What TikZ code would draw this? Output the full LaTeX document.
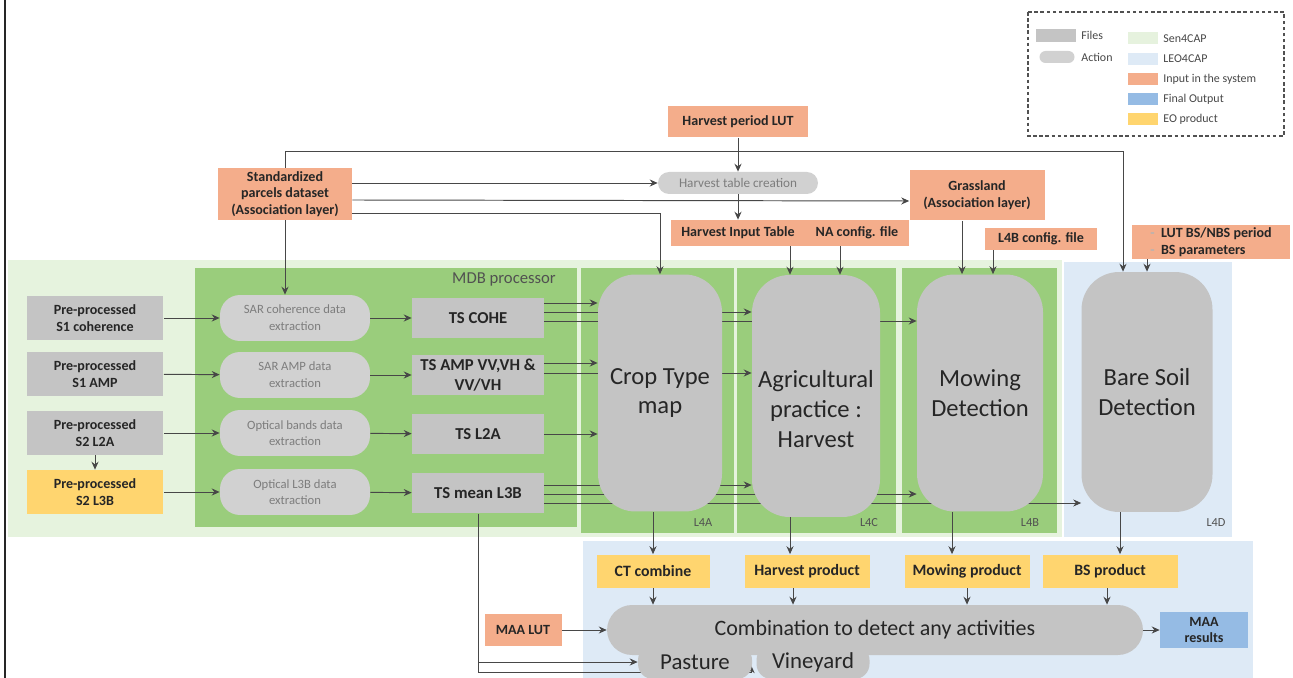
\documentclass[tikz,border=0pt]{standalone}
\usepackage{fontspec}
\setmainfont{Carlito}
\usetikzlibrary{positioning,backgrounds,arrows.meta}
\definecolor{ink}     {HTML}{262626}
\definecolor{filegray}{HTML}{C4C4C4}
\definecolor{actgray} {HTML}{D1D1D1}
\definecolor{inorange}{HTML}{F4AD8B}
\definecolor{eoyellow}{HTML}{FFD56F}
\definecolor{outblue} {HTML}{95BBE4}
\definecolor{mdbgreen}{HTML}{9ACD7C}
\definecolor{leofill} {HTML}{DEEAF6}
\colorlet{senfill}{mdbgreen!25}
\newcommand{\fsz}[2]{\fontsize{#1}{#2}\selectfont}
\tikzset{
  >=Stealth,
  % --- nodes
  filebox/.style = {fill=filegray, text=ink, align=center, inner sep=1pt,
                    font=\fsz{8}{9.5}\bfseries},
  inp/.style     = {filebox, fill=inorange},
  eo/.style      = {filebox, fill=eoyellow, font=\fsz{9}{10.5}\bfseries},
  fin/.style     = {filebox, fill=outblue},
  tsbox/.style   = {filebox, font=\fsz{9.5}{11}\bfseries, minimum width=2.64cm,
                    minimum height=0.82cm},
  act/.style     = {fill=actgray, text=ink!60, align=center, inner sep=1pt,
                    rounded corners=0.4cm, font=\fsz{7.2}{9.5}},
  big/.style     = {fill=filegray, text=ink, align=center, inner sep=1pt,
                    rounded corners=0.75cm, font=\fsz{14}{17}},
  lbl/.style     = {font=\fsz{7}{8}, text=ink!80},
  leg/.style     = {font=\fsz{6.8}{7.5}, text=ink!85, anchor=west, inner sep=0pt},
  % --- edges
  e/.style       = {-{Stealth[length=4.5pt,width=4pt]}, draw=ink!85, line width=0.55pt},
}

\begin{document}
\begin{tikzpicture}[x=0.02cm, y=-0.02cm,
  inbox/.style={filebox, minimum width=2.74cm, minimum height=0.88cm},
  exbox/.style={act, minimum width=3cm, minimum height=0.92cm},
  prod/.style={eo, minimum height=0.66cm},
  swatch/.style={minimum width=0.6cm, minimum height=0.24cm, inner sep=0pt},
]
  \useasboundingbox (0,0) rectangle (1293,678);
  \begin{pgfonlayer}{background}
    \fill[white] (0,0) rectangle (1293,678);
    \fill[senfill] (8,260) rectangle (1062,537);
    \fill[leofill] (1064,262) rectangle (1232,537);
    \fill[leofill] (583,541) rectangle (1253,678);
    \fill[mdbgreen] (195,268) rectangle (577,527);
    \fill[mdbgreen] (581,268) rectangle (734,533);
    \fill[mdbgreen] (737,268) rectangle (896,533);
    \fill[mdbgreen] (902,268) rectangle (1057,533);
  \end{pgfonlayer}
  \draw[ink, line width=1pt] (5,0) -- (5,678);

  % legend
  \draw[ink!80, line width=0.8pt, dash pattern=on 2pt off 1.5pt] (1028,12) rectangle (1284,136);
  \node[swatch, fill=filegray, minimum width=0.8cm, minimum height=0.26cm] (lgfile) at (1056,36) {};
  \node[leg] (lgfiletxt) at (1081,35) {Files};
  \node[swatch, fill=actgray, rounded corners=0.12cm, minimum width=0.7cm] (lgact) at (1057,57) {};
  \node[leg] (lgacttxt) at (1081,57) {Action};
  \foreach \c/\t [count=\i] in {senfill/Sen4CAP, leofill/LEO4CAP, inorange/Input in the system,
                               outblue/Final Output, eoyellow/EO product} {
    \node[swatch, fill=\c] (lgsw\i) at (1143,18+20.3*\i) {};
    \node[leg] (lgtx\i) at (1163,18+20.3*\i) {\t};
  }

  % inputs on top
  \node[inp, minimum width=2.8cm, minimum height=0.62cm] (hpl) at (738,122) {Harvest period LUT};
  \node[act, rounded corners=0.22cm, minimum width=3.2cm, minimum height=0.44cm,
        font=\fsz{7.5}{9}] (htc) at (738,183) {Harvest table creation};
  \node[inp, minimum width=2.68cm, minimum height=1.04cm] (std) at (285,194)
       {Standardized\\parcels dataset\\(Association layer)};
  \node[inp, minimum width=2.68cm, minimum height=0.52cm] (hit) at (738,233) {Harvest Input Table};
  \node[inp, minimum width=2.08cm, minimum height=0.52cm] (na) at (857,233) {NA config. file};
  \node[inp, minimum width=2.7cm, minimum height=1.02cm] (grass) at (977,195)
       {Grassland\\(Association layer)};
  \node[inp, minimum width=2.24cm, minimum height=0.44cm] (lfb) at (1041,239) {L4B config. file};
  \node[inp, minimum width=3.16cm, minimum height=0.68cm, align=left] (lutbs) at (1211,242)
       {\textcolor{ink!35}{-}\ \ LUT BS/NBS period\\\textcolor{ink!35}{-}\ \ BS parameters};

  % MDB processor
  \node[inbox] (in1) at (95,318) {Pre-processed\\S1 coherence};
  \node[inbox] (in2) at (95,374) {Pre-processed\\S1 AMP};
  \node[inbox] (in3) at (95,433) {Pre-processed\\S2 L2A};
  \node[inbox, fill=eoyellow] (in4) at (95,492) {Pre-processed\\S2 L3B};
  \node[exbox] (ex1) at (295,318) {SAR coherence data\\extraction};
  \node[exbox] (ex2) at (295,375) {SAR AMP data\\extraction};
  \node[exbox] (ex3) at (295,433) {Optical bands data\\extraction};
  \node[exbox] (ex4) at (295,492) {Optical L3B data\\extraction};
  \node[tsbox] (ts1) at (478,318) {TS COHE};
  \node[tsbox] (ts2) at (478,375) {TS AMP VV,VH \&\\VV/VH};
  \node[tsbox] (ts3) at (478,434) {TS L2A};
  \node[tsbox] (ts4) at (478,493) {TS mean L3B};
  \node[font=\fsz{9.5}{11}, text=ink!80, anchor=east] (mdblbl) at (562,279) {MDB processor};

  % L4 processors
  \node[big, minimum width=2.48cm, minimum height=4.74cm] (ct) at (660,393) {Crop Type\\map};
  \node[big, minimum width=2.56cm, minimum height=4.84cm] (agri) at (816,396)
       {\mbox{}\\[0.28cm]Agricultural\\practice :\\Harvest};
  \node[big, minimum width=2.52cm, minimum height=4.74cm] (mow) at (980,393) {Mowing\\Detection};
  \node[big, minimum width=2.62cm, minimum height=4.8cm] (bare) at (1147,392) {Bare Soil\\Detection};
  \node[lbl] (l4a) at (703,523) {L4A};
  \node[lbl] (l4c) at (869,523) {L4C};
  \node[lbl] (l4b) at (1030,523) {L4B};
  \node[lbl] (l4d) at (1216,523) {L4D};

  % products and combination
  \node[prod, minimum width=2.26cm] (ctc) at (653,571) {CT combine};
  \node[prod, minimum width=2.5cm] (hp) at (807,571) {Harvest product};
  \node[prod, minimum width=2.5cm] (mp) at (967,571) {Mowing product};
  \node[prod, minimum width=2.7cm] (bsp) at (1110,571) {BS product};
  \node[big, rounded corners=0.5cm, minimum width=10.72cm, minimum height=1cm,
        font=\fsz{12.5}{15}] (comb) at (875,630) {Combination to detect any activities};
  \node[big, rounded corners=0.3cm, minimum width=2.28cm, minimum height=0.68cm,
        font=\fsz{13}{15}] (past) at (695,662) {Pasture};
  \node[big, rounded corners=0.3cm, minimum width=2.26cm, minimum height=0.68cm,
        font=\fsz{13}{15}] (vine) at (813,662) {Vineyard};
  \node[inp, minimum width=1.54cm, minimum height=0.64cm] (maalut) at (523,630) {MAA LUT};
  \node[fin, minimum width=1.76cm, minimum height=0.72cm] (maares) at (1204,630) {MAA\\results};

  \begin{pgfonlayer}{background}
    % top feeds
    \draw[e] (std.north) -- ++(0,-16) -| ([xshift=-0.48cm]bare.north);
    \draw[e] (std.south) -- (std.south |- ex1.north);
    \draw[e] (std.east |- htc.west) -- (htc.west);
    \draw[e] ([yshift=-0.12cm]std.east) -- ([yshift=-0.12cm]grass.west);
    \draw[e] ([yshift=-0.38cm]std.east) -| (ct.north);
    \draw[e] (hpl) -- (htc);
    \draw[e] (htc) -- (hit);
    \draw[e] ([xshift=-0.52cm]agri.north |- hit.south) -- ([xshift=-0.52cm]agri.north);
    \draw[e] ([xshift=0.48cm]agri.north |- na.south) -- ([xshift=0.48cm]agri.north);
    \draw[e] ([xshift=-0.36cm]mow.north |- grass.south) -- ([xshift=-0.36cm]mow.north);
    \draw[e] ([xshift=0.26cm]mow.north |- lfb.south) -- ([xshift=0.26cm]mow.north);
    \draw[e] (bare.north |- lutbs.south) -- (bare.north);
    % extraction chains
    \draw[e] (in1) -- (ex1); \draw[e] (in2) -- (ex2);
    \draw[e] (in3) -- (ex3); \draw[e] (in4) -- (ex4);
    \draw[e] (in3) -- (in4);
    \draw[e] (ex1) -- (ts1); \draw[e] (ex2) -- (ts2);
    \draw[e] (ex3) -- (ts3); \draw[e] (ex4) -- (ts4);
    % time series to processors
    \draw[e] ([yshift=0.3cm]ts1.east) -- ([yshift=0.3cm]ts1.east -| ct.west);
    \draw[e] ([yshift=0.12cm]ts1.east) -- ([yshift=0.12cm]ts1.east -| agri.west);
    \draw[e] ([yshift=-0.06cm]ts1.east) -- ([yshift=-0.06cm]ts1.east -| mow.west);
    \draw[e] ([yshift=0.24cm]ts2.east) -- ([yshift=0.24cm]ts2.east -| ct.west);
    \draw[e] ([yshift=0.04cm]ts2.east) -- ([yshift=0.04cm]ts2.east -| agri.west);
    \draw[e] (ts3.east) -- (ts3.east -| ct.west);
    \draw[e] ([yshift=0.16cm]ts4.east) -- ([yshift=0.16cm]ts4.east -| agri.west);
    \draw[e] ([yshift=-0.02cm]ts4.east) -- ([yshift=-0.02cm]ts4.east -| mow.west);
    \draw[e] ([yshift=-0.2cm]ts4.east) -- ([yshift=-0.2cm]ts4.east -| bare.west);
    \draw[e] (ts4.south) |- (past.west);
    \draw[e] (ts4.south) |- ([xshift=-0.1cm,yshift=0.14cm]vine.south west)
                         -- ([xshift=-0.1cm,yshift=0.28cm]vine.south west);
    % products
    \draw[e] (ctc.north |- ct.south) -- (ctc.north);
    \draw[e] ([xshift=-0.34cm]hp.north |- agri.south) -- ([xshift=-0.34cm]hp.north);
    \draw[e] ([xshift=-0.3cm]mp.north |- mow.south) -- ([xshift=-0.3cm]mp.north);
    \draw[e] ([xshift=0.2cm]bsp.north |- bare.south) -- ([xshift=0.2cm]bsp.north);
    \draw[e] (ctc.south) -- (ctc.south |- comb.north);
    \draw[e] ([xshift=-0.28cm]hp.south) -- ([xshift=-0.28cm]hp.south |- comb.north);
    \draw[e] (mp.south) -- (mp.south |- comb.north);
    \draw[e] ([xshift=-0.06cm]bsp.south) -- ([xshift=-0.06cm]bsp.south |- comb.north);
    \draw[e] (maalut) -- (comb);
    \draw[e] (comb) -- (maares);
  \end{pgfonlayer}
\end{tikzpicture}
\end{document}
